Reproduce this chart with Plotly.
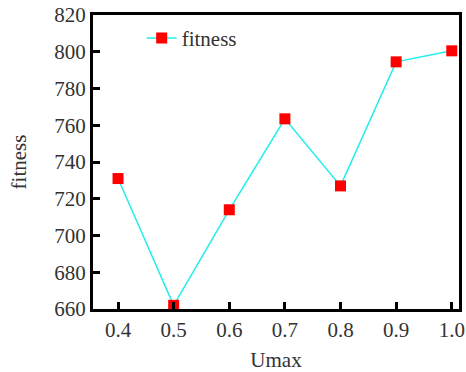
import plotly.graph_objects as go

umax = [0.4, 0.5, 0.6, 0.7, 0.8, 0.9, 1.0]
fitness = [731, 662, 714, 763.5, 727, 794.5, 800.5]
x_ticks = [0.4, 0.5, 0.6, 0.7, 0.8, 0.9, 1.0]
x_tick_labels = ["0.4", "0.5", "0.6", "0.7", "0.8", "0.9", "1.0"]
y_ticks = [660, 680, 700, 720, 740, 760, 780, 800, 820]

font_family = "Liberation Serif, Times New Roman, serif"

fig = go.Figure()
fig.add_trace(go.Scatter(
    x=umax, y=fitness, mode="lines+markers", name="fitness",
    line=dict(color="#22eeee", width=1.5),
    marker=dict(symbol="square", size=11, color="#ff0000"),
    cliponaxis=False,
))

fig.update_layout(
    width=466, height=372,
    margin=dict(l=93, r=7, t=15, b=63),
    paper_bgcolor="white", plot_bgcolor="white",
    font=dict(family=font_family, size=21, color="#333333"),
    showlegend=True,
    legend=dict(x=0.133, y=0.99, xanchor="left", yanchor="top",
                bgcolor="rgba(0,0,0,0)", borderwidth=0,
                font=dict(size=21, family=font_family, color="#333333")),
    xaxis=dict(
        range=[0.355, 1.013], tickvals=x_ticks, ticktext=x_tick_labels,
        showgrid=False, zeroline=False, automargin=False,
        showline=True, linecolor="black", linewidth=3, mirror=True,
        ticks="inside", ticklen=7, tickwidth=2.5, tickcolor="black",
        title=dict(text="Umax", standoff=12, font=dict(size=21)),
        tickfont=dict(size=21),
    ),
    yaxis=dict(
        range=[660, 820], tickvals=y_ticks,
        showgrid=False, zeroline=False, automargin=False,
        showline=True, linecolor="black", linewidth=3, mirror=True,
        ticks="inside", ticklen=7, tickwidth=2.5, tickcolor="black",
        title=dict(text="fitness", standoff=22, font=dict(size=21)),
        tickfont=dict(size=21),
    ),
)

fig.write_html("out.html")
